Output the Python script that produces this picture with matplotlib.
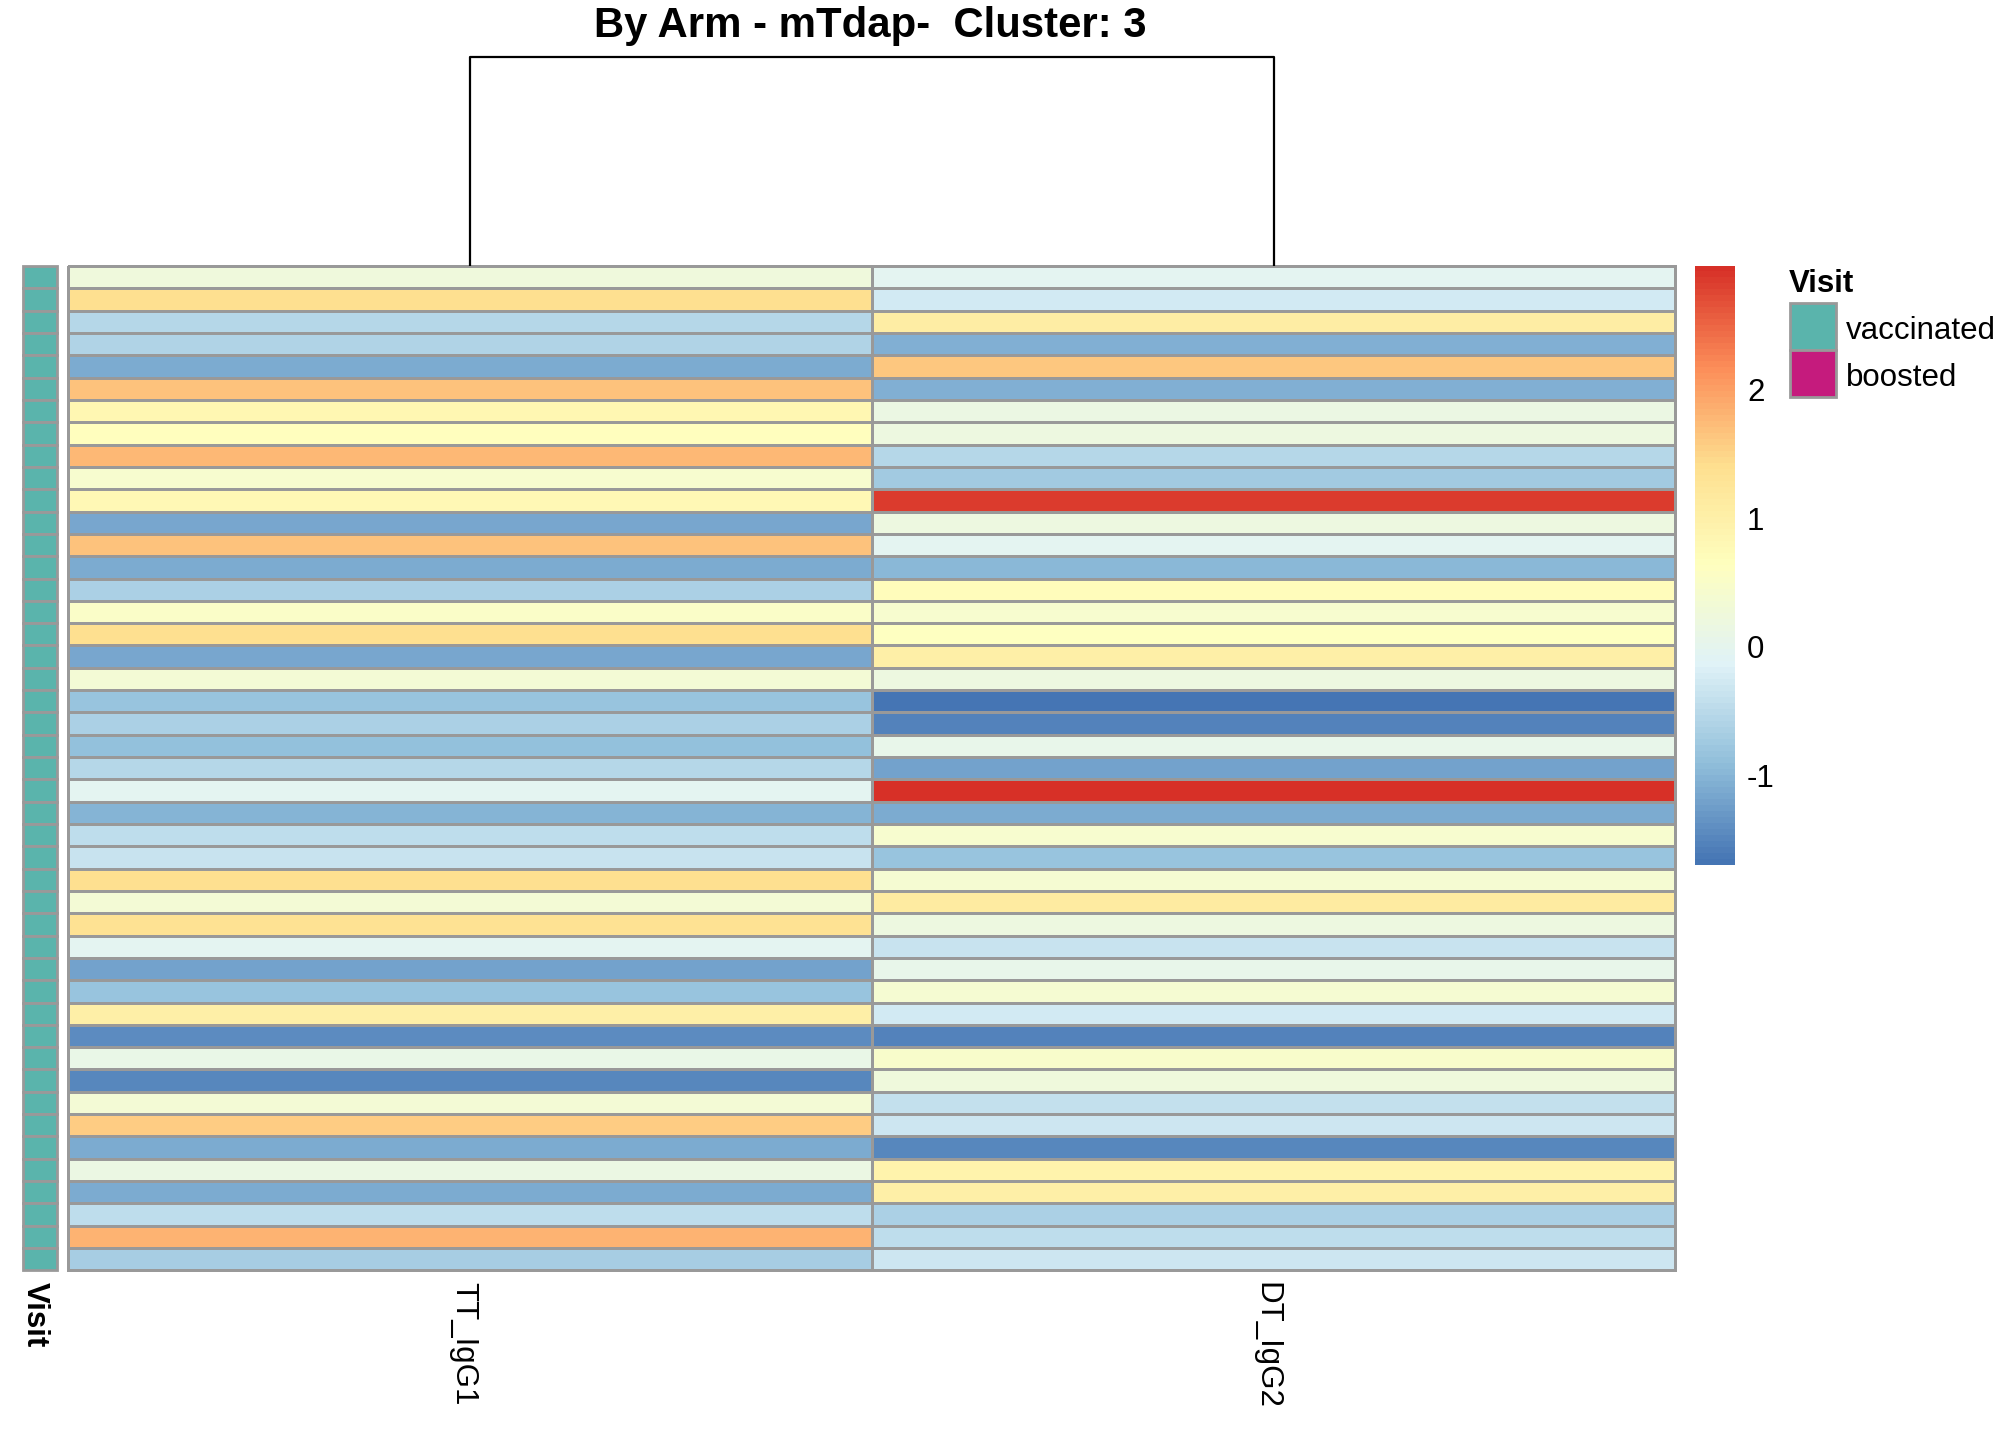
import numpy as np
import matplotlib
matplotlib.use("Agg")
import matplotlib.pyplot as plt
from matplotlib.colors import LinearSegmentedColormap
from matplotlib.patches import Rectangle

plt.rcParams['font.family'] = ['Liberation Sans', 'DejaVu Sans']

# data (row order as shown, top to bottom)
columns = ["TT_IgG1", "DT_IgG2"]
tt_igg1 = [0.25, 1.41, -0.57, -0.60, -1.11, 1.67, 0.86, 0.64, 1.78, 0.44,
           0.79, -1.18, 1.67, -1.11, -0.66, 0.52, 1.38, -1.15, 0.31, -0.85,
           -0.66, -0.88, -0.54, -0.05, -1.02, -0.48, -0.37, 1.41, 0.31, 1.36,
           -0.05, -1.19, -0.83, 1.03, -1.43, 0.09, -1.47, 0.33, 1.60, -1.11,
           0.14, -1.11, -0.48, 1.81, -0.69]
dt_igg2 = [-0.05, -0.27, 1.09, -1.05, 1.62, -1.05, 0.16, 0.18, -0.54, -0.75,
           2.83, 0.17, -0.05, -0.99, 0.72, 0.44, 0.60, 1.04, 0.17, -1.70,
           -1.53, 0.06, -1.19, 2.96, -1.11, 0.44, -0.85, 0.36, 1.14, 0.18,
           -0.37, 0.06, 0.36, -0.26, -1.53, 0.46, 0.25, -0.44, -0.34, -1.47,
           0.94, 1.02, -0.67, -0.47, -0.31]
visit = ["vaccinated"] * 45
visit_levels = ["vaccinated", "boosted"]
visit_colors = {"vaccinated": "#5AB4AC", "boosted": "#C51B7D"}
dend_height = 1.0
title = "By Arm - mTdap-  Cluster: 3"
cbar_ticks = [-1, 0, 1, 2]

W, H = 2016, 1440
fig = plt.figure(figsize=(W / 100, H / 100), dpi=100)


def box(l, t, r, b):
    # pixel box -> figure fraction
    return [l / W, 1 - b / H, (r - l) / W, (b - t) / H]


mat = np.array([tt_igg1, dt_igg2]).T
nrow, ncol = mat.shape
vmin, vmax = mat.min(), mat.max()
pal = ["#4575B4", "#91BFDB", "#E0F3F8", "#FFFFBF", "#FEE090", "#FC8D59", "#D73027"]
cmap = LinearSegmentedColormap.from_list("rdylbu_r", pal, N=100)
grid_col = "#999999"
fs = 22.5

top, bottom = 266.1, 1270.3

# heatmap body
ax = fig.add_axes(box(68.1, top, 1675.3, bottom))
m = ax.pcolormesh(np.arange(ncol + 1), np.arange(nrow + 1), mat, cmap=cmap,
                  vmin=vmin, vmax=vmax, edgecolors=grid_col, linewidth=2)
m.set_clip_on(False)
ax.set_xlim(0, ncol)
ax.set_ylim(nrow, 0)
ax.axis("off")
lab_y = 1281.9
for i, lab in enumerate(columns):
    ax.text(68.1 + (i + 0.5) * (1675.3 - 68.1) / ncol - 7, H - lab_y, lab,
            transform=None, rotation=270, ha="center", va="top", fontsize=fs)

# annotation column
axa = fig.add_axes(box(23.1, top, 56.6, bottom))
for i, v in enumerate(visit):
    axa.add_patch(Rectangle((0, i), 1, 1, facecolor=visit_colors[v],
                            edgecolor=grid_col, linewidth=2, clip_on=False))
axa.set_xlim(0, 1)
axa.set_ylim(nrow, 0)
axa.axis("off")
axa.text(35, H - lab_y, "Visit", transform=None, rotation=270, ha="center",
         va="top", fontsize=fs, fontweight="bold")

# column dendrogram
axd = fig.add_axes(box(68.1, 56.6, 1675.3, top))
axd.plot([0.5, 0.5, 1.5, 1.5], [0, dend_height, dend_height, 0], color="black",
         linewidth=1.6, clip_on=False, solid_capstyle="butt")
axd.set_xlim(0, ncol)
axd.set_ylim(0, dend_height)
axd.axis("off")

fig.text(870.4 / W, 1 - 25.7 / H, title, ha="center", va="center",
         fontsize=30.2, fontweight="bold")

# colour key
axc = fig.add_axes(box(1694.6, top, 1734.4, 865.3))
grad = np.linspace(vmin, vmax, 200).reshape(-1, 1)
axc.imshow(grad, cmap=cmap, vmin=vmin, vmax=vmax, aspect="auto",
           origin="lower", extent=[0, 1, vmin, vmax])
axc.set_xlim(0, 1)
axc.set_ylim(vmin, vmax)
axc.set_xticks([])
axc.yaxis.tick_right()
axc.set_yticks(cbar_ticks)
axc.set_yticklabels([str(t) for t in cbar_ticks], fontsize=fs)
axc.tick_params(axis="y", length=0, pad=9)
for s in axc.spines.values():
    s.set_visible(False)

# annotation legend
fig.text(1788.4 / W, 1 - 284.3 / H, "Visit", ha="left", va="center",
         fontsize=fs, fontweight="bold")
lx0, lx1 = 1789.7, 1836
ltop, lh = 303.4, 47
for k, lev in enumerate(visit_levels):
    t = ltop + k * lh
    fig.patches.append(Rectangle((lx0 / W, 1 - (t + lh) / H), (lx1 - lx0) / W,
                                 lh / H, transform=fig.transFigure,
                                 facecolor=visit_colors[lev], edgecolor=grid_col,
                                 linewidth=2))
    fig.text(1846.3 / W, 1 - (t + lh / 2 + 4) / H, lev, ha="left", va="center",
             fontsize=fs)

fig.savefig("out.png", dpi=100, facecolor="white")
